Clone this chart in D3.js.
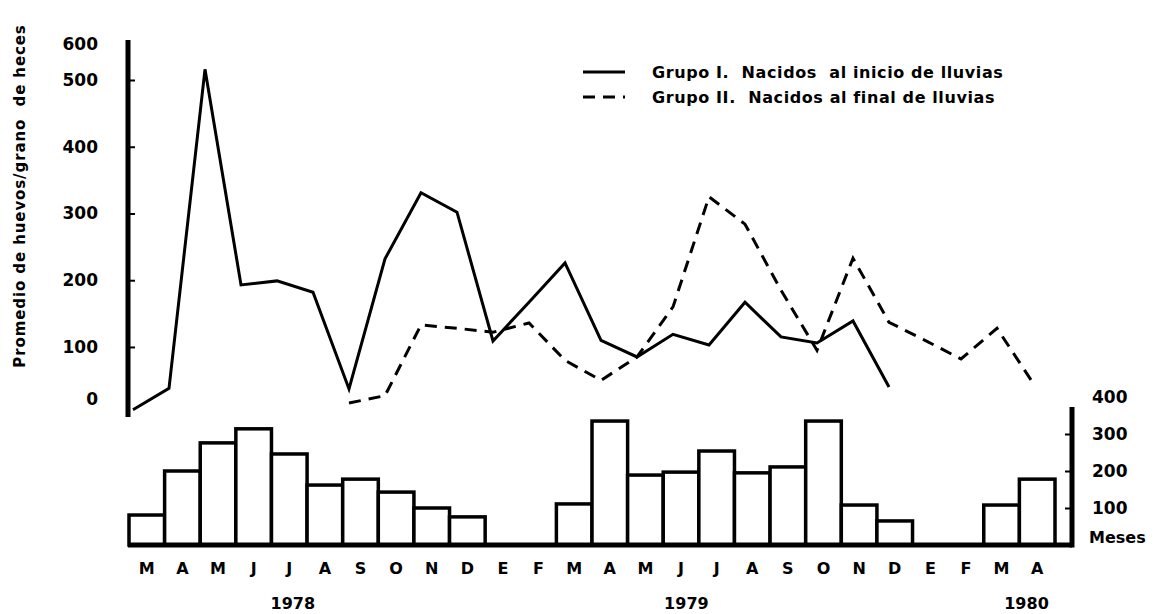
<!DOCTYPE html>
<html>
  <head>
    <meta charset="utf-8">
    <title>Promedio de huevos por grano de heces</title>
    <style>
      body { margin: 0; background: #fff; }
      text { font-family: "DejaVu Sans", sans-serif; font-weight: bold; fill: #000; white-space: pre; }
    </style>
  </head>
  <body>
    <div id="chart"></div>

    <script src="https://cdn.jsdelivr.net/npm/d3@7"></script>
    <script>
      // months from March 1978 to April 1980
      const monthLabels = ["M","A","M","J","J","A","S","O","N","D","E","F",
                           "M","A","M","J","J","A","S","O","N","D","E","F","M","A"]
      const years = [{ label: "1978", pos: 4.6 }, { label: "1979", pos: 15.65 }, { label: "1980", pos: 25.2 }]

      // promedio de huevos/grano de heces
      const grupo1 = [6, 38, 516, 193, 199, 182, 37, 232, 331, 302, 109, 167, 226,
                      110, 85, 119, 103, 167, 115, 106, 139, 40, null, null, null, null]
      const grupo2 = [null, null, null, null, null, null, 16, 27, 133, 128, 122, 136, 80,
                      50, 85, 160, 325, 284, 185, 95, 233, 137, 110, 82, 128, 46]

      // monthly values for the bars (right axis)
      const lluvia = [81, 200, 276, 314, 246, 162, 178, 143, 100, 76, 0, 0,
                      111, 335, 189, 197, 254, 195, 211, 335, 108, 65, 0, 0, 108, 178]

      const leftTicks = [0, 100, 200, 300, 400, 500]
      const rightTicks = [100, 200, 300]
      const rightLabels = [100, 200, 300, 400]

      const legendItems = [
        { label: "Grupo I.  Nacidos  al inicio de lluvias", dash: null },
        { label: "Grupo II.  Nacidos al final de lluvias", dash: "12,8" }
      ]

      const width = 1175, height = 614
      const idx = d3.range(monthLabels.length)

      const svg = d3.select("#chart")
        .append("svg")
        .attr("width", width)
        .attr("height", height)

      // scales
      const xLine = d3.scalePoint().domain(idx).range([133, 1033])
      const xBar = d3.scaleBand().domain(idx).range([129, 1055]).padding(0)
      const xPos = d3.scaleLinear().domain([0, monthLabels.length]).range([129, 1055])
      const y = d3.scaleLinear().domain([0, 500]).range([413.7, 80])
      const yb = d3.scaleLinear().domain([0, 400]).range([545, 397])

      const leftX = 128, rightX = 1072
      const yAxisTop = 560, ybAxisTop = 373

      // bars
      svg.append("g")
        .selectAll("rect")
        .data(idx.filter(i => lluvia[i] > 0))
        .join("rect")
        .attr("x", i => xBar(i))
        .attr("y", i => yb(lluvia[i]))
        .attr("width", xBar.bandwidth())
        .attr("height", i => yb(0) - yb(lluvia[i]))
        .attr("fill", "#fff")
        .attr("stroke", "#000")
        .attr("stroke-width", 3.5)

      // bar baseline
      svg.append("line")
        .attr("x1", leftX).attr("x2", rightX)
        .attr("y1", yb(0)).attr("y2", yb(0))
        .attr("stroke", "#000").attr("stroke-width", 5)

      // right axis
      svg.append("line")
        .attr("x1", rightX).attr("x2", rightX)
        .attr("y1", yb(0) + 2.5).attr("y2", yb(ybAxisTop))
        .attr("stroke", "#000").attr("stroke-width", 5)

      svg.append("g")
        .attr("transform", "translate(" + (rightX - 2) + ",0)")
        .call(d3.axisLeft(yb).tickValues(rightTicks).tickSize(5).tickFormat(""))
        .call(g => g.select(".domain").remove())
        .call(g => g.selectAll("line").attr("stroke-width", 2))

      svg.append("g")
        .selectAll("text")
        .data(rightLabels)
        .join("text")
        .attr("x", rightX + 20)
        .attr("y", d => yb(d))
        .attr("dy", "0.35em")
        .attr("font-size", 17)
        .text(d => d)

      svg.append("text")
        .attr("x", rightX + 17)
        .attr("y", yb(0) - 8)
        .attr("dy", "0.35em")
        .attr("font-size", 16)
        .text("Meses")

      // left axis
      svg.append("line")
        .attr("x1", leftX).attr("x2", leftX)
        .attr("y1", y(-5)).attr("y2", y(yAxisTop))
        .attr("stroke", "#000").attr("stroke-width", 5)

      svg.append("g")
        .attr("transform", "translate(" + (leftX + 2) + ",0)")
        .call(d3.axisRight(y).tickValues(leftTicks.filter(d => d > 0)).tickSize(5).tickFormat(""))
        .call(g => g.select(".domain").remove())
        .call(g => g.selectAll("line").attr("stroke-width", 2))

      svg.append("g")
        .selectAll("text")
        .data(leftTicks)
        .join("text")
        .attr("x", 98)
        .attr("y", d => d === 0 ? y(d) - 15 : y(d))
        .attr("dy", "0.35em")
        .attr("text-anchor", "end")
        .attr("font-size", 17)
        .text(d => d)

      svg.append("text")
        .attr("x", 98)
        .attr("y", y(yAxisTop) + 4)
        .attr("dy", "0.35em")
        .attr("text-anchor", "end")
        .attr("font-size", 17)
        .text("600")

      // y axis title
      svg.append("text")
        .attr("transform", "translate(20," + 196 + ") rotate(-90)")
        .attr("text-anchor", "middle")
        .attr("dy", "0.35em")
        .attr("font-size", 15)
        .attr("letter-spacing", 0.9)
        .text("Promedio de huevos/grano  de heces")

      // lines
      const line = data => d3.line()
        .defined(i => data[i] !== null)
        .x(i => xLine(i))
        .y(i => y(data[i]))

      svg.append("path")
        .attr("d", line(grupo1)(idx))
        .attr("fill", "none")
        .attr("stroke", "#000")
        .attr("stroke-width", 3)
        .attr("stroke-linejoin", "miter")

      svg.append("path")
        .attr("d", line(grupo2)(idx))
        .attr("fill", "none")
        .attr("stroke", "#000")
        .attr("stroke-width", 3)
        .attr("stroke-dasharray", "12,8")

      // month labels and years
      svg.append("g")
        .selectAll("text")
        .data(idx)
        .join("text")
        .attr("x", i => xBar(i) + xBar.bandwidth() / 2)
        .attr("y", 568)
        .attr("dy", "0.35em")
        .attr("text-anchor", "middle")
        .attr("font-size", 16)
        .text(i => monthLabels[i])

      svg.append("g")
        .selectAll("text")
        .data(years)
        .join("text")
        .attr("x", d => xPos(d.pos))
        .attr("y", 603)
        .attr("dy", "0.35em")
        .attr("text-anchor", "middle")
        .attr("font-size", 16)
        .text(d => d.label)

      // legend
      const legend = svg.append("g").attr("class", "legend")
      legendItems.forEach(({ label, dash }, ix) => {
        legend.append("line")
          .attr("x1", 583).attr("x2", 625)
          .attr("y1", 72 + 25 * ix).attr("y2", 72 + 25 * ix)
          .attr("stroke", "#000")
          .attr("stroke-width", 3)
          .attr("stroke-dasharray", dash)

        legend.append("text")
          .attr("x", 652)
          .attr("y", 72 + 25 * ix)
          .attr("dy", "0.35em")
          .attr("font-size", 16)
          .attr("letter-spacing", 0.6)
          .text(label)
      })
    </script>
  </body>
</html>
